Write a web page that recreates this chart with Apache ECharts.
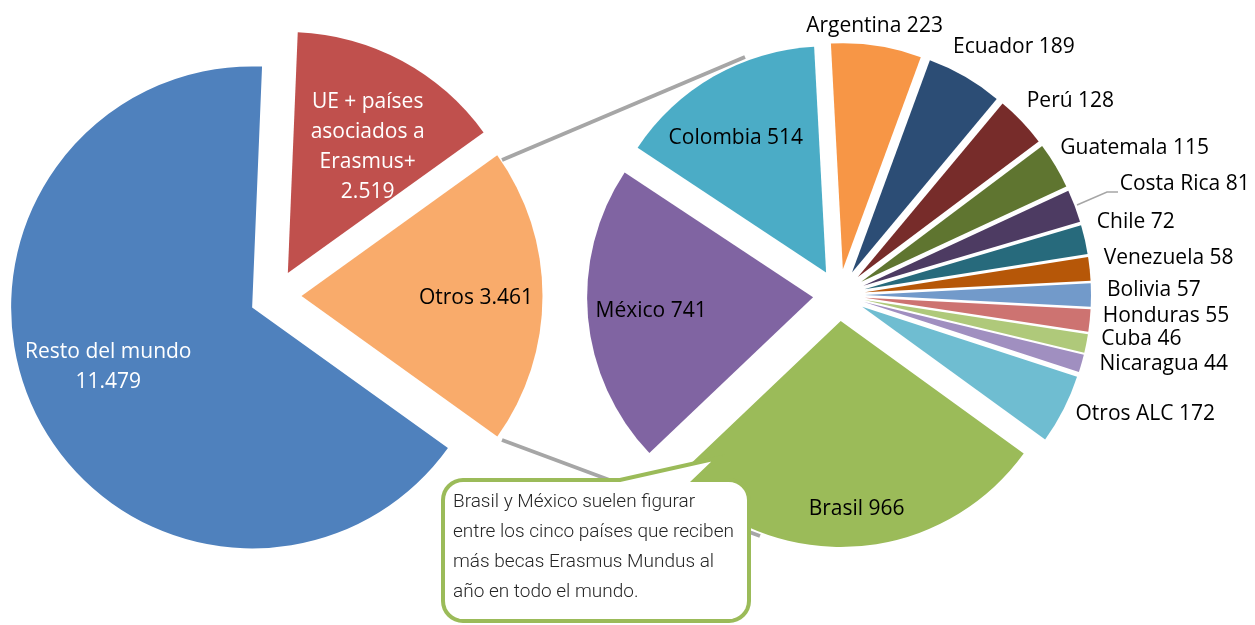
<!DOCTYPE html>
<html>
<head>
<meta charset="utf-8">
<script src="https://cdn.jsdelivr.net/npm/echarts@6/dist/echarts.min.js"></script>
<style>
  html, body { margin: 0; padding: 0; background: #fff; }
  #chart { width: 1255px; height: 625px; }
</style>
</head>
<body>
<div id="chart"></div>
<script>
// primer gráfico: becas por origen (mundo)
const mainNames = ['Otros', 'Resto del mundo', 'UE + países\nasociados a\nErasmus+']
const mainValues = [3461, 11479, 2519]
const mainBreak = [false, true, true]

// segundo gráfico: desglose de "Otros" (América Latina y Caribe)
const alcNames = ['Colombia', 'Argentina', 'Ecuador', 'Perú', 'Guatemala', 'Costa Rica', 'Chile',
  'Venezuela', 'Bolivia', 'Honduras', 'Cuba', 'Nicaragua', 'Otros ALC', 'Brasil', 'México']
const alcValues = [514, 223, 189, 128, 115, 81, 72, 58, 57, 55, 46, 44, 172, 966, 741]

const calloutLines = [
  'Brasil y México suelen figurar',
  'entre los cinco países que reciben',
  'más becas Erasmus Mundus al',
  'año en todo el mundo.'
]

// estilos
const mainColors = ['#F9AB6B', '#4F81BD', '#C0504D']
const mainText = ['#000', '#fff', '#fff']
const alcColors = ['#4BACC6', '#F79646', '#2C4D75', '#772C2A', '#5F7530', '#4D3B62', '#276A7C',
  '#B65708', '#729ACA', '#CD7371', '#AFC97A', '#A08FC0', '#6FBDD1', '#9BBB59', '#8064A2']

// geometría de los dos círculos
const pie1 = { cx: 275.5, cy: 296, r: 241, start: 35.7 }
const pie2 = { cx: 839, cy: 295, r: 226, start: 146.5 }
const explode = 26

// colocación de etiquetas (dentro / fuera + pequeño ajuste)
const mainPlace = [
  { dx: 0, dy: 2 }, { dx: 13, dy: -17 }, { dx: -3, dy: 27 }
]
const alcPlace = [
  { dx: -9, dy: 8 },
  { out: true, align: 'center', dx: -2, dy: -20 },
  { out: true, dx: -12, dy: -30 },
  { out: true, dx: 5, dy: -20 },
  { out: true, dx: 5, dy: -18 },
  { out: true, dx: 45, dy: -22 },
  { out: true, dx: 12, dy: -17 },
  { out: true, dx: 14, dy: -11 },
  { out: true, dx: 16, dy: -5 },
  { out: true, dx: 13, dy: -5 },
  { out: true, dx: 15, dy: -4 },
  { out: true, dx: 18, dy: 1 },
  { out: true, dx: 12, dy: 5 },
  { dx: 5, dy: 25 },
  { dx: 1, dy: -1 }
]

const fmt = v => String(v).replace(/\B(?=(\d{3})+(?!\d))/g, '.')

function makeLabelLayout(pie, values, place) {
  const total = values.reduce((a, b) => a + b, 0)
  return function (p) {
    const i = p.dataIndex
    let before = 0
    for (let k = 0; k < i; k++) before += values[k]
    const mid = (pie.start - (before + values[i] / 2) / total * 360) * Math.PI / 180
    const pl = place[i]
    const dist = pl.out ? explode + pie.r : explode + 0.724 * pie.r
    return {
      x: pie.cx + dist * Math.cos(mid) + pl.dx,
      y: pie.cy - dist * Math.sin(mid) + pl.dy,
      align: pl.out ? (pl.align || 'left') : 'center',
      verticalAlign: 'middle'
    }
  }
}

function bubblePoints(l, t, r, b, rad, tail) {
  const pts = []
  const arc = (cx, cy, a0, a1) => {
    for (let k = 0; k <= 8; k++) {
      const a = (a0 + (a1 - a0) * k / 8) * Math.PI / 180
      pts.push([cx + rad * Math.cos(a), cy + rad * Math.sin(a)])
    }
  }
  arc(l + rad, t + rad, 180, 270)
  tail.forEach(pt => pts.push(pt))
  arc(r - rad, t + rad, 270, 360)
  arc(r - rad, b - rad, 0, 90)
  arc(l + rad, b - rad, 90, 180)
  return pts
}

const labelFont = { fontFamily: '"Open Sans", sans-serif', fontSize: 21, lineHeight: 30 }

// sectores separados (selected + selectedOffset)
function slicesSeries(pie, names, values, colors) {
  return {
    type: 'pie',
    z: 2,
    center: [pie.cx, pie.cy],
    radius: pie.r,
    startAngle: pie.start,
    clockwise: true,
    selectedMode: 'multiple',
    selectedOffset: explode,
    silent: true,
    itemStyle: { borderWidth: 0 },
    select: { itemStyle: { borderWidth: 0 } },
    label: { show: false },
    labelLine: { show: false },
    data: names.map((n, i) => ({
      name: n, value: values[i], selected: true, itemStyle: { color: colors[i] }
    }))
  }
}

// misma tarta, transparente, sólo para las etiquetas
function labelSeries(pie, names, values, place, textColors, formatter) {
  return {
    type: 'pie',
    z: 3,
    center: [pie.cx, pie.cy],
    radius: pie.r,
    startAngle: pie.start,
    clockwise: true,
    silent: true,
    avoidLabelOverlap: false,
    itemStyle: { color: 'rgba(0,0,0,0)', borderWidth: 0 },
    labelLine: { show: false },
    label: { show: true, position: 'inside', color: '#000', ...labelFont, formatter },
    labelLayout: makeLabelLayout(pie, values, place),
    data: names.map((n, i) => ({
      name: n, value: values[i],
      label: textColors ? { color: textColors[i] } : undefined
    }))
  }
}

const chart = echarts.init(document.getElementById('chart'))
chart.setOption({
  animation: false,
  backgroundColor: '#fff',
  graphic: [
    { type: 'line', z: 1, shape: { x1: 502, y1: 160, x2: 745, y2: 57 },
      style: { stroke: '#A6A6A6', lineWidth: 4 } },
    { type: 'line', z: 1, shape: { x1: 502, y1: 440, x2: 760, y2: 536 },
      style: { stroke: '#A6A6A6', lineWidth: 4 } },
    { type: 'polyline', z: 5, shape: { points: [[1077, 205], [1107, 192], [1118, 192]] },
      style: { stroke: '#A6A6A6', lineWidth: 1.5, fill: null } },
    { type: 'polygon', z: 10,
      shape: { points: bubblePoints(443, 480, 749, 621, 20, [[620, 480], [718, 458], [695, 480]]) },
      style: { fill: '#fff', stroke: '#9BBB59', lineWidth: 4 } },
    { type: 'text', z: 11, x: 453, y: 487,
      style: { text: calloutLines.join('\n'), font: '300 19px Roboto, sans-serif',
        lineHeight: 30, fill: '#262626', verticalAlign: 'top' } }
  ],
  series: [
    slicesSeries(pie1, mainNames, mainValues, mainColors),
    slicesSeries(pie2, alcNames, alcValues, alcColors),
    labelSeries(pie1, mainNames, mainValues, mainPlace, mainText,
      p => p.name + (mainBreak[p.dataIndex] ? '\n' : ' ') + fmt(p.value)),
    labelSeries(pie2, alcNames, alcValues, alcPlace, null,
      p => p.name + ' ' + fmt(p.value))
  ]
})
</script>
</body>
</html>
